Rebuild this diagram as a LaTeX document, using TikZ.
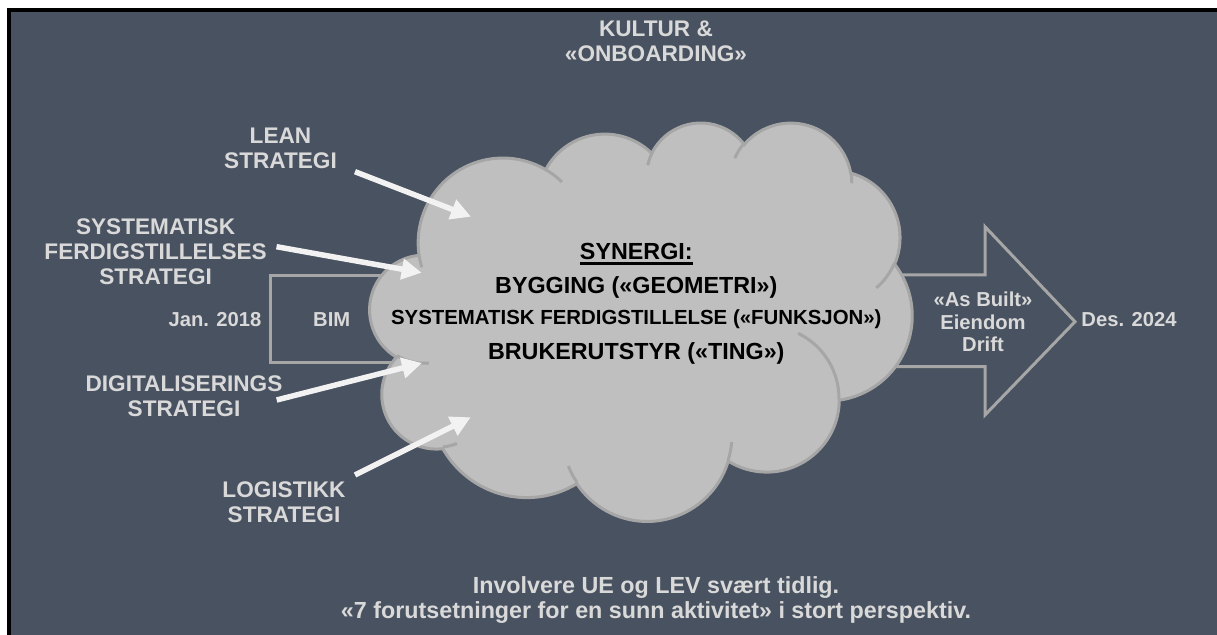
\documentclass[tikz,border=0pt]{standalone}
\usepackage{fontspec}
\setmainfont{Liberation Sans}
\usetikzlibrary{arrows.meta}
\definecolor{bgdark}{RGB}{73,82,96}
\definecolor{cloudfill}{RGB}{191,191,191}
\definecolor{cloudedge}{RGB}{166,166,166}
\definecolor{lbltxt}{RGB}{217,217,217}
\definecolor{arrw}{RGB}{242,242,242}
\definecolor{outl}{RGB}{166,166,166}
\newcommand\cloudk{1}
\newcommand\cvtarc[5]{%
  \pgfmathsetmacro\cvtA{atan2(#2*\cloudk*sin(#4),#3*cos(#4))}%
  \pgfmathsetmacro\cvtB{atan2(#2*\cloudk*sin(#4+#5),#3*cos(#4+#5))}%
  \pgfmathsetmacro\cvtD{mod(\cvtB-\cvtA+720,360)}%
  \expandafter\xdef\csname sa#1\endcsname{\cvtA}%
  \expandafter\xdef\csname sd#1\endcsname{\cvtD}%
}
\cvtarc{oA}{67.53}{91.90}{-190.487483}{123.780533}
\cvtarc{oB}{53.33}{72.67}{-144.102383}{89.945233}
\cvtarc{oC}{43.65}{59.45}{-145.807917}{99.723017}
\cvtarc{oD}{48.57}{65.95}{-130.986067}{117.241733}
\cvtarc{oE}{53.33}{72.73}{-78.708883}{109.026917}
\cvtarc{oF}{67.75}{92.20}{-46.26725}{130.269}
\cvtarc{oG}{57.85}{78.67}{0.625017}{114.033333}
\cvtarc{oH}{67.52}{92.15}{22.4516}{115.17255}
\cvtarc{oI}{77.20}{105.43}{66.242633}{75.711017}
\cvtarc{oJ}{43.60}{59.18}{-274.942083}{146.735567}
\cvtarc{oK}{43.45}{59.45}{-246.8285}{152.51885}
\cvtarc{iA}{43.45}{59.45}{86.742}{26.4295}
\cvtarc{iB}{43.60}{59.18}{73.610467}{11.447467}
\cvtarc{iC}{67.52}{92.15}{137.62415}{14.0811}
\cvtarc{iD}{67.52}{92.15}{6.453267}{15.99835}
\cvtarc{iE}{57.85}{78.67}{-70.29235}{70.917367}
\cvtarc{iF}{53.33}{72.73}{30.318033}{27.7515}
\cvtarc{iG}{48.57}{65.95}{-13.744333}{14.8589}
\cvtarc{iH}{48.57}{65.95}{-149.18145}{18.195367}
\cvtarc{iI}{43.65}{59.45}{-163.494267}{17.68635}
\cvtarc{iJ}{67.53}{91.90}{-66.70695}{12.31935}
\cvtarc{iK}{67.53}{91.90}{157.65435}{11.858167}
\newcommand\myul[1]{\setbox0=\hbox{#1}\rlap{\rule[-2.8pt]{\wd0}{1.3pt}}\box0}
\tikzset{
  lbl/.style={text=lbltxt, font=\bfseries\fontsize{11.3}{12.6}\selectfont, align=center, inner sep=0pt},
  smalllbl/.style={text=lbltxt, font=\bfseries\fontsize{10.1}{11.2}\selectfont, align=center, inner sep=0pt},
  bottomlbl/.style={text=lbltxt, font=\bfseries\fontsize{11.65}{12.5}\selectfont, align=center, inner sep=0pt},
  cloudtxt/.style={text=black, font=\bfseries\fontsize{11.65}{13}\selectfont, inner sep=0pt},
  cloudtxtsmall/.style={text=black, font=\bfseries\fontsize{10.2}{12}\selectfont, inner sep=0pt},
  strat/.style={draw=arrw, line width=2.75pt, -{Triangle[length=10pt,width=10pt]}},
  outlinebox/.style={draw=outl, line width=1.5pt},
  cloudshape/.style={fill=cloudfill, draw=cloudedge, line width=1.5pt},
  cloudinner/.style={draw=cloudedge, line width=1.5pt},
}
\begin{document}
\begin{tikzpicture}[x=0.5pt, y=-0.5pt]
\useasboundingbox (0,0) rectangle (1217,635);
% frame and background
\fill[white] (0,0) rectangle (1217,635);
\fill[black] (7,8) rectangle (1217,635);
\fill[bgdark] (11,12) rectangle (1217,635);
% BIM box (behind cloud)
\draw[outlinebox] (450,275.7) -- (270,275.7) -- (270,363) -- (450,363);
% big outline arrow (behind cloud)
\draw[outlinebox, line join=miter] (850,275) -- (985,275) -- (985,226.7) -- (1075,321.7) -- (985,415) -- (985,366.7) -- (850,366.7);
% cloud
\begin{scope}[shift={(370,121.7)}, x=0.627315pt, y=-0.460995pt]
\draw[cloudshape] (39.00,143.70)
  arc[start angle=\saoA, delta angle=\sdoA, x radius=67.53, y radius=91.90]
  arc[start angle=\saoB, delta angle=\sdoB, x radius=53.33, y radius=72.67]
  arc[start angle=\saoC, delta angle=\sdoC, x radius=43.65, y radius=59.45]
  arc[start angle=\saoD, delta angle=\sdoD, x radius=48.57, y radius=65.95]
  arc[start angle=\saoE, delta angle=\sdoE, x radius=53.33, y radius=72.73]
  arc[start angle=\saoF, delta angle=\sdoF, x radius=67.75, y radius=92.20]
  arc[start angle=\saoG, delta angle=\sdoG, x radius=57.85, y radius=78.67]
  arc[start angle=\saoH, delta angle=\sdoH, x radius=67.52, y radius=92.15]
  arc[start angle=\saoI, delta angle=\sdoI, x radius=77.20, y radius=105.43]
  arc[start angle=\saoJ, delta angle=\sdoJ, x radius=43.60, y radius=59.18]
  arc[start angle=\saoK, delta angle=\sdoK, x radius=43.45, y radius=59.45]
  -- cycle;
\draw[cloudinner]
  (46.93,261.77) arc[start angle=\saiA, delta angle=\sdiA, x radius=43.45, y radius=59.45]
  (69.28,348.99) arc[start angle=\saiB, delta angle=\sdiB, x radius=43.60, y radius=59.18]
  (164.78,390.90) arc[start angle=\saiC, delta angle=\sdiC, x radius=67.52, y radius=92.15]
  (288.27,347.51) arc[start angle=\saiD, delta angle=\sdiD, x radius=67.52, y radius=92.15]
  (341.29,229.54) arc[start angle=\saiE, delta angle=\sdiE, x radius=57.85, y radius=78.67]
  (417.98,153.54) arc[start angle=\saiF, delta angle=\sdiF, x radius=53.33, y radius=72.73]
  (383.24,54.26) arc[start angle=\saiG, delta angle=\sdiG, x radius=48.57, y radius=65.95]
  (290.78,39.52) arc[start angle=\saiH, delta angle=\sdiH, x radius=48.57, y radius=65.95]
  (221.41,47.20) arc[start angle=\saiI, delta angle=\sdiI, x radius=43.65, y radius=59.45]
  (140.00,51.92) arc[start angle=\saiJ, delta angle=\sdiJ, x radius=67.53, y radius=91.90]
  (41.27,157.89) arc[start angle=\saiK, delta angle=\sdiK, x radius=67.53, y radius=91.90];
\end{scope}
% cloud text
\node[cloudtxt, anchor=base] (synergi) at (636.3,259.3) {\myul{SYNERGI:}};
\node[cloudtxt, anchor=base] (bygging) at (636.3,293.3) {BYGGING («GEOMETRI»)};
\node[cloudtxtsmall, anchor=base] (sysf) at (636.3,325) {SYSTEMATISK FERDIGSTILLELSE («FUNKSJON»)};
\node[cloudtxt, anchor=base] (bruker) at (636.3,359.3) {BRUKERUTSTYR («TING»)};
% labels
\node[lbl, anchor=north] (kultur) at (656,20) {KULTUR \&\\«ONBOARDING»};
\node[lbl, anchor=north] (lean) at (280.5,127.7) {LEAN\\STRATEGI};
\node[lbl, anchor=north] (sysstrat) at (155.6,218.3) {SYSTEMATISK\\FERDIGSTILLELSES\\STRATEGI};
\node[lbl, anchor=north] (digi) at (184,375) {DIGITALISERINGS\\STRATEGI};
\node[lbl, anchor=north] (logi) at (284,481) {LOGISTIKK\\STRATEGI};
\node[smalllbl, anchor=base] (jan) at (215,326.7) {Jan. 2018};
\node[smalllbl, anchor=base] (bim) at (331.7,326.7) {BIM};
\node[smalllbl, anchor=north] (asbuilt) at (983,291.7) {«As Built»\\Eiendom\\Drift};
\node[smalllbl, anchor=base] (des) at (1129,326.7) {Des. 2024};
\node[bottomlbl, anchor=north] (bottom) at (656,576.7) {Involvere UE og LEV svært tidlig.\\«7 forutsetninger for en sunn aktivitet» i stort perspektiv.};
% strategy arrows
\coordinate (leanS) at (355,171.7);
\coordinate (leanE) at (471,216.7);
\coordinate (sysS) at (276.5,246.7);
\coordinate (sysE) at (421.7,272.7);
\coordinate (digS) at (276.7,400);
\coordinate (digE) at (422,363);
\coordinate (logS) at (355,475);
\coordinate (logE) at (470.7,417.3);
\draw[strat] (leanS) -- (leanE);
\draw[strat] (sysS) -- (sysE);
\draw[strat] (digS) -- (digE);
\draw[strat] (logS) -- (logE);
\end{tikzpicture}
\end{document}
